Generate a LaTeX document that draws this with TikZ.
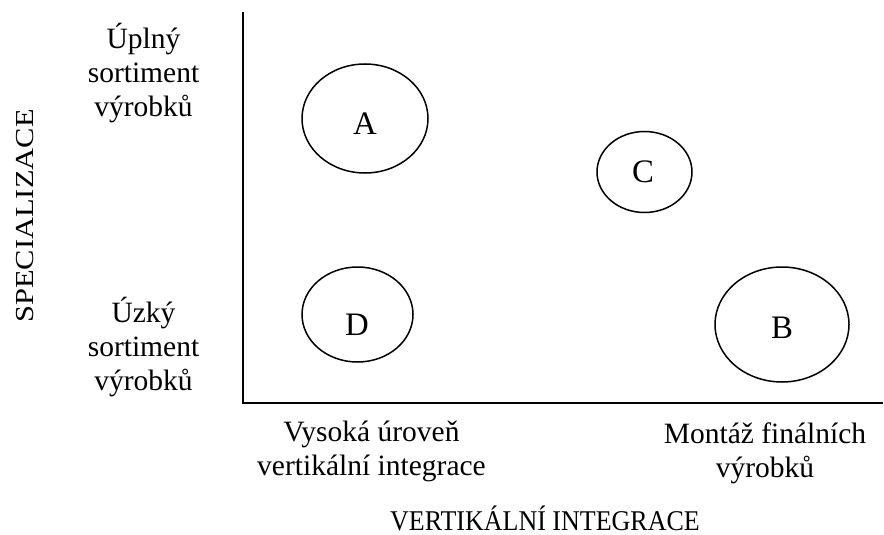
\documentclass[tikz,border=0pt]{standalone}
\usepackage{fontspec}
\setmainfont{Liberation Serif}
\usetikzlibrary{shapes.geometric}
\newcommand\mylines[1]{\begin{tabular}[t]{@{}c@{}}#1\end{tabular}}
\tikzset{
  lbl/.style={inner sep=0pt, anchor=base, font=\fontsize{29.5}{34}\selectfont},
  title/.style={inner sep=0pt, anchor=base, font=\fontsize{26}{30}\selectfont},
  letter/.style={inner sep=0pt, anchor=base, font=\fontsize{32.8}{38}\selectfont},
  oval/.style={ellipse, draw, line width=1.5pt, inner sep=0pt},
  axis/.style={line width=1.8pt}
}
\begin{document}
\begin{tikzpicture}[x=1pt, y=-1pt]
\useasboundingbox (0,0) rectangle (884,535);
% axes
\coordinate (top) at (243,12);
\coordinate (origin) at (243,403);
\coordinate (right) at (883,403);
\draw[axis] (top) -- (origin) -- (right);
% ellipses
\node[oval, minimum width=126pt, minimum height=109pt] (eA) at (365,118.5) {};
\node[oval, minimum width=95pt, minimum height=81pt] (eC) at (644.5,172) {};
\node[oval, minimum width=134pt, minimum height=115pt] (eB) at (782,324.5) {};
\node[oval, minimum width=111pt, minimum height=95pt] (eD) at (357.5,314.5) {};
% letters
\node[letter] (A) at (365,135) {A};
\node[letter] (C) at (643,182) {C};
\node[letter] (B) at (782,338) {B};
\node[letter] (D) at (357,335) {D};
% axis labels
\node[lbl] (full) at (143.5,49) {\mylines{Úplný\\sortiment\\výrobků}};
\node[lbl] (narrow) at (143.5,322) {\mylines{Úzký\\sortiment\\výrobků}};
\node[lbl] (high) at (371.5,441) {\mylines{Vysoká úroveň\\vertikální integrace}};
\node[lbl] (final) at (765,443) {\mylines{Montáž finálních\\výrobků}};
\node[title] (xtitle) at (545,530) {\scalebox{1}[1.1]{VERTIKÁLNÍ INTEGRACE}};
\node[title, rotate=90, font=\fontsize{30.5}{34}\selectfont] (ytitle) at (33,216) {\scalebox{1}[0.85]{SPECIALIZACE}};
\end{tikzpicture}
\end{document}
